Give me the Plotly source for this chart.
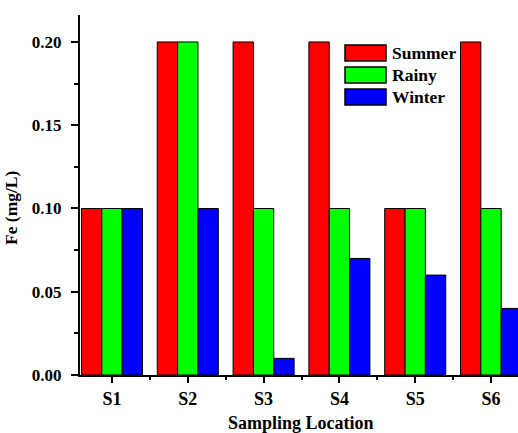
import plotly.graph_objects as go

sites = ["S1", "S2", "S3", "S4", "S5", "S6"]
summer = [0.10, 0.20, 0.20, 0.20, 0.10, 0.20]
rainy = [0.10, 0.20, 0.10, 0.10, 0.10, 0.10]
winter = [0.10, 0.10, 0.01, 0.07, 0.06, 0.04]
series_names = ["Summer", "Rainy", "Winter"]
series_colors = ["#FF0000", "#00FF00", "#0000FF"]
y_ticks = [0.00, 0.05, 0.10, 0.15, 0.20]

W, H = 518, 433
ML, MR, MT, MB = 80, 0, 15, 58
PW, PH = W - ML - MR, H - MT - MB

FONT = "Liberation Serif"
xs = list(range(len(sites)))

fig = go.Figure()
for name, vals, col in zip(series_names, [summer, rainy, winter], series_colors):
    fig.add_trace(go.Bar(x=xs, y=vals, name=name, marker=dict(color=col, line=dict(color="black", width=1)),
                         showlegend=False))

# manual legend (large swatches like the reference)
def px_x(p):
    return (p - ML) / PW

def px_y(p):
    return (H - MB - p) / PH

shapes = []
annotations = []
for i, (name, col) in enumerate(zip(series_names, series_colors)):
    top = 45 + 22 * i
    shapes.append(dict(type="rect", xref="paper", yref="paper",
                       x0=px_x(345), x1=px_x(386), y0=px_y(top + 16), y1=px_y(top),
                       fillcolor=col, line=dict(color="black", width=1.5)))
    annotations.append(dict(xref="paper", yref="paper", x=px_x(390), y=px_y(top + 8),
                            xanchor="left", yanchor="middle", showarrow=False, text=name,
                            font=dict(family=FONT, size=17.5, color="black", weight="bold")))

annotations.append(dict(xref="paper", yref="paper", x=px_x(11), y=px_y(208), textangle=-90,
                        xanchor="center", yanchor="middle", showarrow=False, text="Fe (mg/L)",
                        font=dict(family=FONT, size=17.5, color="black", weight="bold")))
annotations.append(dict(xref="paper", yref="paper", x=px_x(301), y=px_y(411),
                        xanchor="center", yanchor="top", showarrow=False, text="Sampling Location",
                        font=dict(family=FONT, size=18, color="black", weight="bold")))

fig.update_layout(
    width=W, height=H,
    margin=dict(l=ML, r=MR, t=MT, b=MB),
    paper_bgcolor="white", plot_bgcolor="white",
    barmode="group", bargap=0.195, bargroupgap=0,
    shapes=shapes, annotations=annotations,
    showlegend=False,
)
fig.update_xaxes(
    range=[-0.422, 5.356], tickvals=xs, ticktext=sites,
    showline=True, linecolor="black", linewidth=2, showgrid=False, zeroline=False,
    ticks="outside", ticklen=6, tickwidth=2, tickcolor="black",
    minor=dict(tickvals=[i + 0.5 for i in xs], ticks="outside", ticklen=3, tickwidth=2, tickcolor="black", showgrid=False),
    tickfont=dict(family=FONT, size=18, color="black", weight="bold"),
)
fig.update_yaxes(
    range=[0, 0.2162], tickvals=y_ticks, tickformat=".2f",
    showline=True, linecolor="black", linewidth=2, showgrid=False, zeroline=False,
    ticks="outside", ticklen=7, tickwidth=2, tickcolor="black",
    minor=dict(dtick=0.025, ticks="outside", ticklen=4, tickwidth=2, tickcolor="black", showgrid=False),
    ticklabelstandoff=6,
    tickfont=dict(family=FONT, size=17, color="black", weight="bold"),
)

fig.write_html("out.html")
